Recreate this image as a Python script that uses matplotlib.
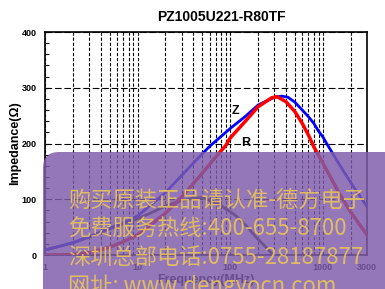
import matplotlib
matplotlib.use("Agg")
import matplotlib.pyplot as plt
from matplotlib.patches import FancyBboxPatch
from matplotlib.ticker import LogLocator, MultipleLocator, NullFormatter, FixedLocator

# impedance curves (frequency in MHz, ohms)
freq_z = [1, 2, 3, 5, 7, 10, 20, 30, 44, 60, 100, 144, 200, 300, 360, 420, 500, 600, 700, 800, 900, 1000, 1100, 1500, 2000, 3000]
z_vals = [9, 22, 33, 48, 58, 70, 112, 143, 172, 195, 227, 248, 269, 283, 285, 283, 274, 260, 248, 236, 222, 212, 200, 163, 130, 87]

freq_r = [1, 2, 3, 5, 7, 10, 20, 30, 50, 70, 90, 100, 144, 200, 280, 320, 400, 500, 600, 700, 800, 1000, 1500, 2000, 3000]
r_vals = [0, 1, 4, 14, 24, 36, 75, 104, 147, 176, 197, 210, 239, 266, 282, 284, 275, 257, 236, 215, 194, 165, 111, 77, 36]

freq_x = [1, 2, 3, 5, 7, 10, 15, 20, 30, 40, 50, 74, 112, 150, 185, 240, 291]
x_vals = [9, 22, 32, 47, 56, 65, 78, 88, 98, 102, 103, 92, 72, 52, 34, 15, 0]

xticks = [1, 10, 100, 1000, 3000]
yticks = [0, 100, 200, 300, 400]

watermark = ["购买原装正品请认准-德方电子",
             "免费服务热线:400-655-8700",
             "深圳总部电话:0755-28187877",
             "网址: www.dengyocn.com"]

fig = plt.figure(figsize=(3.85, 2.89), dpi=100)
ax = fig.add_axes([0.1169, 0.1176, 0.8364, 0.7716])

bold = dict(family="Liberation Sans", weight="bold")

ax.plot(freq_x, x_vals, color="#222222", lw=2, zorder=3)
ax.plot(freq_z, z_vals, color="#0000ff", lw=2, zorder=4)
ax.plot(freq_r, r_vals, color="#ff0000", lw=2.5, zorder=4)

ax.set_xscale("log")
ax.set_xlim(1, 3000)
ax.set_ylim(0, 400)
ax.xaxis.set_major_locator(FixedLocator(xticks))
ax.set_xticklabels([str(t) for t in xticks], **bold, fontsize=6.5)
ax.xaxis.set_minor_locator(LogLocator(subs=range(2, 10)))
ax.xaxis.set_minor_formatter(NullFormatter())
ax.set_yticks(yticks)
ax.set_yticklabels([str(t) for t in yticks], **bold, fontsize=6.5)
ax.yaxis.set_minor_locator(MultipleLocator(20))
ax.tick_params(axis="y", which="both", direction="in", length=3, width=0.8, pad=6)
ax.tick_params(axis="x", which="both", length=0, pad=6)

ax.grid(axis="x", which="both", color="black", lw=0.8, linestyle=(0, (3, 1.6)))
ax.grid(axis="y", which="major", color="black", lw=0.8, linestyle=(0, (6, 2.5)))
for s in ax.spines.values():
    s.set_linewidth(1.2)

ax.set_ylabel("Impedance(Ω)", **bold, fontsize=9, labelpad=0)
ax.set_xlabel("Frequency(MHz)", **bold, fontsize=9, labelpad=1)
fig.text(221 / 385, 1 - 17 / 289, "PZ1005U221-R80TF", ha="center", va="center", **bold, fontsize=10)

ax.text(113, 258, "Z", **bold, fontsize=9, ha="center", va="center")
ax.text(146, 201, "R", **bold, fontsize=9, ha="center", va="center")

# purple watermark panel over the lower part
panel = FancyBboxPatch((0.43, -0.4), 4.0, 1.77, boxstyle="round,pad=0,rounding_size=0.16",
                       transform=fig.dpi_scale_trans, facecolor="#7e5caa", edgecolor="none",
                       alpha=0.83, zorder=5)
fig.add_artist(panel)
for i, line in enumerate(watermark):
    fig.text(68 / 385, 1 - (201 + 28.3 * i) / 289, line, ha="left", va="center",
             family=["Noto Sans CJK SC", "DejaVu Sans"], fontsize=16,
             color="#e8c35a", alpha=0.9, zorder=6)

fig.savefig("out.png", dpi=100)
